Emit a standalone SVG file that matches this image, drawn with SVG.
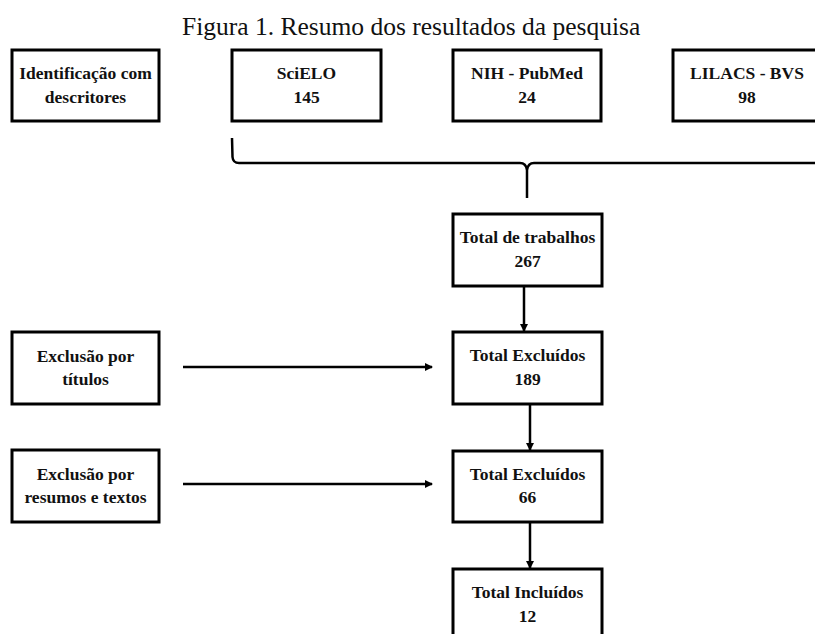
<svg xmlns="http://www.w3.org/2000/svg" width="815" height="634" viewBox="0 0 815 634">
<style>
.box{fill:#fff;stroke:#000;stroke-width:3}
.t{font-family:"Liberation Serif","Times New Roman",serif;font-weight:bold;font-size:17.5px;fill:#111;text-anchor:middle}
.title{font-family:"Liberation Serif","Times New Roman",serif;font-size:25.5px;fill:#111}
.ln{fill:none;stroke:#000;stroke-width:2.5}
</style>
<defs>
<marker id="ah" markerWidth="8" markerHeight="8" refX="7" refY="4" orient="auto" markerUnits="userSpaceOnUse">
<path d="M0,0 L8,4 L0,8 Z" fill="#000"/>
</marker>
</defs>
<rect width="815" height="634" fill="#fff"/>
<text class="title" x="182" y="35">Figura 1. Resumo dos resultados da pesquisa</text>

<g id="ident"><rect class="box" x="12" y="50" width="147" height="71"/><text class="t" x="85.5" y="79">Identificação com</text><text class="t" x="85.5" y="103">descritores</text></g>
<g id="scielo"><rect class="box" x="232" y="50" width="149" height="71"/><text class="t" x="306.5" y="79">SciELO</text><text class="t" x="306.5" y="103">145</text></g>
<g id="pubmed"><rect class="box" x="453" y="50" width="148" height="71"/><text class="t" x="527" y="79">NIH - PubMed</text><text class="t" x="527" y="103">24</text></g>
<g id="lilacs"><rect class="box" x="673" y="50" width="150" height="71"/><text class="t" x="747" y="79">LILACS - BVS</text><text class="t" x="747" y="103">98</text></g>

<g id="total"><rect class="box" x="453" y="214" width="149" height="72"/><text class="t" x="527.5" y="243">Total de trabalhos</text><text class="t" x="527.5" y="267">267</text></g>
<g id="excl189"><rect class="box" x="453" y="332" width="149" height="72"/><text class="t" x="527.5" y="361">Total Excluídos</text><text class="t" x="527.5" y="385">189</text></g>
<g id="excl66"><rect class="box" x="453" y="451" width="149" height="71"/><text class="t" x="527.5" y="480">Total Excluídos</text><text class="t" x="527.5" y="503">66</text></g>
<g id="incl"><rect class="box" x="453" y="569" width="149" height="80"/><text class="t" x="527.5" y="598">Total Incluídos</text><text class="t" x="527.5" y="622">12</text></g>

<g id="extit"><rect class="box" x="12" y="332" width="147" height="72"/><text class="t" x="85.5" y="362">Exclusão por</text><text class="t" x="85.5" y="385">títulos</text></g>
<g id="exres"><rect class="box" x="12" y="450" width="147" height="72"/><text class="t" x="85.5" y="480">Exclusão por</text><text class="t" x="85.5" y="503">resumos e textos</text></g>

<g id="connectors">
<path class="ln" d="M232,138 L232.5,157 Q233,163 239,163 L520,163 Q526,163 527,170 L527,198 M527,170 Q528,163 534,163 L815,163"/>
<line class="ln" x1="524" y1="286" x2="524" y2="331" marker-end="url(#ah)"/>
<line class="ln" x1="530" y1="404" x2="530" y2="450" marker-end="url(#ah)"/>
<line class="ln" x1="530" y1="522" x2="530" y2="568" marker-end="url(#ah)"/>
<line class="ln" x1="183" y1="367" x2="432" y2="367" marker-end="url(#ah)"/>
<line class="ln" x1="183" y1="484" x2="432" y2="484" marker-end="url(#ah)"/>
</g>
</svg>
